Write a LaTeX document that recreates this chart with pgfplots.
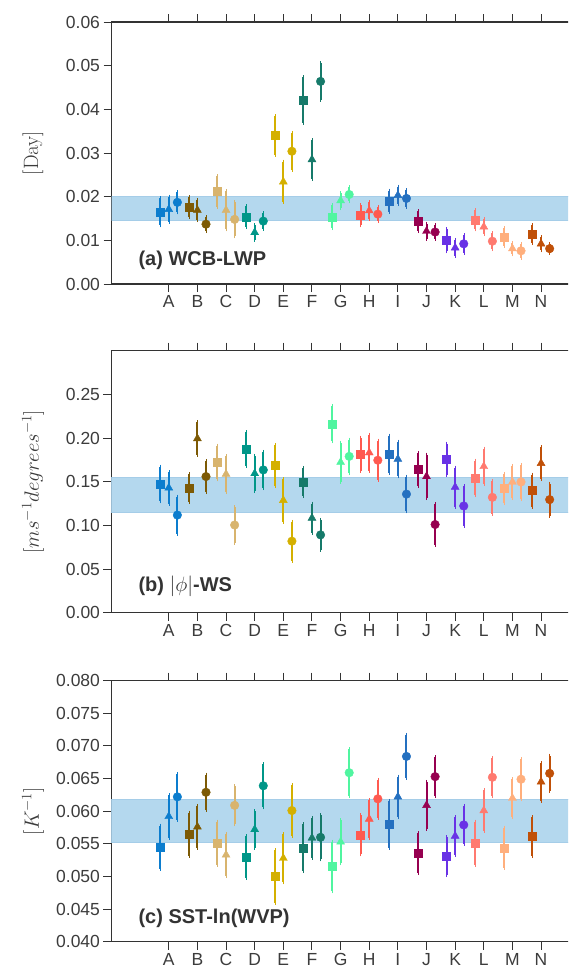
\documentclass[border=0pt]{standalone}
\usepackage[no-math]{fontspec}
\setmainfont{Liberation Sans}
\usepackage{pgfplots}
\pgfplotsset{compat=1.18}
\definecolor{cA}{RGB}{12,125,206}
\definecolor{cB}{RGB}{125,90,5}
\definecolor{cC}{RGB}{216,180,110}
\definecolor{cD}{RGB}{0,150,136}
\definecolor{cE}{RGB}{212,176,0}
\definecolor{cF}{RGB}{22,122,106}
\definecolor{cG}{RGB}{80,245,160}
\definecolor{cH}{RGB}{255,90,80}
\definecolor{cI}{RGB}{36,112,192}
\definecolor{cJ}{RGB}{150,0,80}
\definecolor{cK}{RGB}{105,50,230}
\definecolor{cL}{RGB}{255,122,112}
\definecolor{cM}{RGB}{255,175,125}
\definecolor{cN}{RGB}{192,80,8}
\definecolor{bandc}{RGB}{180,216,238}
\definecolor{bande}{RGB}{165,205,232}
\definecolor{axcol}{RGB}{51,51,51}
\definecolor{tickcol}{RGB}{60,60,60}
\pgfplotsset{
  catst/.style={color=#1, only marks, scatter, scatter src=explicit symbolic,
    scatter/classes={s={mark=square*, mark size=4pt, #1},
                     t={mark=triangle*, mark size=4.6pt, #1},
                     c={mark=*, mark size=4.3pt, #1}},
    error bars/.cd, y dir=both, y explicit,
    error mark options={draw=none},
    error bar style={line width=2pt, #1}},
  panel/.style={scale only axis, width=458.2pt, xmin=-2, xmax=14,
    axis line style={draw=axcol, line width=1.3pt},
    tick align=outside, major tick length=8pt,
    tick style={draw=axcol, line width=1pt},
    xtick pos=both, ytick pos=left,
    xtick={0,1,2,3,4,5,6,7,8,9,10,11,12,13},
    xticklabels={A,B,C,D,E,F,G,H,I,J,K,L,M,N},
    scaled y ticks=false,
    ticklabel style={font=\fontsize{17.5}{20}\selectfont, text=tickcol},
    /pgf/number format/assume math mode=true,
    ylabel style={at={(axis description cs:-0.1713,0.5)}, anchor=center,
      font=\fontsize{20}{24}\selectfont, text=tickcol},
  },
}
\newcommand{\cat}[8]{\addplot[catst=#1] table[x expr=\thisrow{d}+#2, y=y, y error=e, meta=m, row sep=\\] {d y e m\\ -0.3 #3 #4 s\\ 0 #5 #6 t\\ 0.3 #7 #8 c\\};}
\begin{document}
\begin{tikzpicture}
\path[use as bounding box] (0pt,-971pt) rectangle (568pt,0pt);
\clip (0pt,-971pt) rectangle (568pt,0pt);
% ---------------- panel (a)
\begin{axis}[panel, at={(111.5pt,-284pt)}, anchor=south west, height=262pt,
  ymin=0, ymax=0.06, ytick={0,0.01,0.02,0.03,0.04,0.05,0.06},
  yticklabel style={/pgf/number format/.cd, fixed, fixed zerofill, precision=2},
  ylabel={$\mathrm{[Day]}$}]
\addplot[fill=bandc, draw=bande, line width=0.6pt] coordinates {(-2,0.0147) (14,0.0147) (14,0.0201) (-2,0.0201)} -- cycle;
\cat{cA}{0}{0.0165}{0.0031}{0.0171}{0.0029}{0.0187}{0.0023}
\cat{cB}{1}{0.0176}{0.0023}{0.0169}{0.0023}{0.0137}{0.0016}
\cat{cC}{2}{0.0212}{0.0035}{0.0169}{0.0044}{0.0148}{0.0039}
\cat{cD}{3}{0.0154}{0.0024}{0.0118}{0.0017}{0.0144}{0.0018}
\cat{cE}{4}{0.0340}{0.0044}{0.0234}{0.0046}{0.0304}{0.0042}
\cat{cF}{5}{0.0421}{0.0052}{0.0285}{0.0044}{0.0464}{0.0042}
\cat{cG}{6}{0.0154}{0.0026}{0.0191}{0.0017}{0.0205}{0.0016}
\cat{cH}{7}{0.0157}{0.0023}{0.0168}{0.0019}{0.0160}{0.0016}
\cat{cI}{8}{0.0190}{0.0024}{0.0203}{0.0020}{0.0196}{0.0019}
\cat{cJ}{9}{0.0144}{0.0023}{0.0121}{0.0017}{0.0119}{0.0015}
\cat{cK}{10}{0.0100}{0.0025}{0.0083}{0.0018}{0.0092}{0.0020}
\cat{cL}{11}{0.0147}{0.0022}{0.0131}{0.0017}{0.0098}{0.0018}
\cat{cM}{12}{0.0108}{0.0020}{0.0081}{0.0013}{0.0076}{0.0016}
\cat{cN}{13}{0.0115}{0.0020}{0.0092}{0.0015}{0.0081}{0.0010}
\node[anchor=west, font=\bfseries\fontsize{20}{24}\selectfont, text=axcol] at (rel axis cs:0.0513,0.092) {(a) WCB-LWP};
\end{axis}
% ---------------- panel (b)
\begin{axis}[panel, at={(111.5pt,-612.7pt)}, anchor=south west, height=262pt,
  ymin=0, ymax=0.30, ytick={0,0.05,0.10,0.15,0.20,0.25},
  yticklabel style={/pgf/number format/.cd, fixed, fixed zerofill, precision=2},
  ylabel={$[ms^{-1}degrees^{-1}]$}]
\addplot[fill=bandc, draw=bande, line width=0.6pt] coordinates {(-2,0.1147) (14,0.1147) (14,0.1549) (-2,0.1549)} -- cycle;
\cat{cA}{0}{0.1473}{0.0199}{0.1430}{0.0180}{0.1118}{0.0212}
\cat{cB}{1}{0.1430}{0.0157}{0.1994}{0.0185}{0.1559}{0.0178}
\cat{cC}{2}{0.1719}{0.0193}{0.1587}{0.0206}{0.1004}{0.0201}
\cat{cD}{3}{0.1874}{0.0191}{0.1594}{0.0203}{0.1635}{0.0208}
\cat{cE}{4}{0.1686}{0.0237}{0.1287}{0.0243}{0.0819}{0.0222}
\cat{cF}{5}{0.1497}{0.0162}{0.1084}{0.0166}{0.0891}{0.0172}
\cat{cG}{6}{0.2164}{0.0203}{0.1723}{0.0224}{0.1790}{0.0191}
\cat{cH}{7}{0.1815}{0.0189}{0.1832}{0.0206}{0.1746}{0.0224}
\cat{cI}{8}{0.1815}{0.0212}{0.1759}{0.0199}{0.1358}{0.0199}
\cat{cJ}{9}{0.1640}{0.0191}{0.1560}{0.0249}{0.1010}{0.0233}
\cat{cK}{10}{0.1757}{0.0178}{0.1438}{0.0222}{0.1222}{0.0227}
\cat{cL}{11}{0.1543}{0.0197}{0.1675}{0.0203}{0.1321}{0.0189}
\cat{cM}{12}{0.1421}{0.0170}{0.1497}{0.0185}{0.1497}{0.0197}
\cat{cN}{13}{0.1398}{0.0182}{0.1711}{0.0182}{0.1295}{0.0182}
\node[anchor=west, font=\fontsize{20}{24}\selectfont, text=axcol] at (rel axis cs:0.0513,0.099) {\textbf{(b) }$|\phi|$\textbf{-WS}};
\end{axis}
% ---------------- panel (c)
\begin{axis}[panel, at={(111.5pt,-941.7pt)}, anchor=south west, height=261pt,
  ymin=0.04, ymax=0.08, ytick={0.04,0.045,0.05,0.055,0.06,0.065,0.07,0.075,0.08},
  yticklabel style={/pgf/number format/.cd, fixed, fixed zerofill, precision=3},
  ylabel={$[K^{-1}]$}]
\addplot[fill=bandc, draw=bande, line width=0.6pt] coordinates {(-2,0.0552) (14,0.0552) (14,0.0619) (-2,0.0619)} -- cycle;
\cat{cA}{0}{0.0545}{0.0033}{0.0592}{0.0033}{0.0622}{0.0035}
\cat{cB}{1}{0.0565}{0.0033}{0.0576}{0.0032}{0.0629}{0.0027}
\cat{cC}{2}{0.0551}{0.0033}{0.0533}{0.0032}{0.0609}{0.0029}
\cat{cD}{3}{0.0530}{0.0032}{0.0572}{0.0028}{0.0639}{0.0033}
\cat{cE}{4}{0.0500}{0.0040}{0.0528}{0.0037}{0.0601}{0.0039}
\cat{cF}{5}{0.0544}{0.0036}{0.0559}{0.0030}{0.0560}{0.0034}
\cat{cG}{6}{0.0515}{0.0038}{0.0553}{0.0033}{0.0659}{0.0036}
\cat{cH}{7}{0.0564}{0.0030}{0.0588}{0.0029}{0.0619}{0.0029}
\cat{cI}{8}{0.0580}{0.0036}{0.0622}{0.0031}{0.0684}{0.0033}
\cat{cJ}{9}{0.0536}{0.0030}{0.0609}{0.0036}{0.0653}{0.0030}
\cat{cK}{10}{0.0531}{0.0029}{0.0562}{0.0029}{0.0579}{0.0029}
\cat{cL}{11}{0.0551}{0.0033}{0.0601}{0.0031}{0.0652}{0.0029}
\cat{cM}{12}{0.0544}{0.0031}{0.0620}{0.0029}{0.0649}{0.0031}
\cat{cN}{13}{0.0561}{0.0030}{0.0645}{0.0029}{0.0658}{0.0027}
\node[anchor=west, font=\bfseries\fontsize{20}{24}\selectfont, text=axcol] at (rel axis cs:0.0513,0.0897) {(c) SST-ln(WVP)};
\end{axis}
\end{tikzpicture}
\end{document}
